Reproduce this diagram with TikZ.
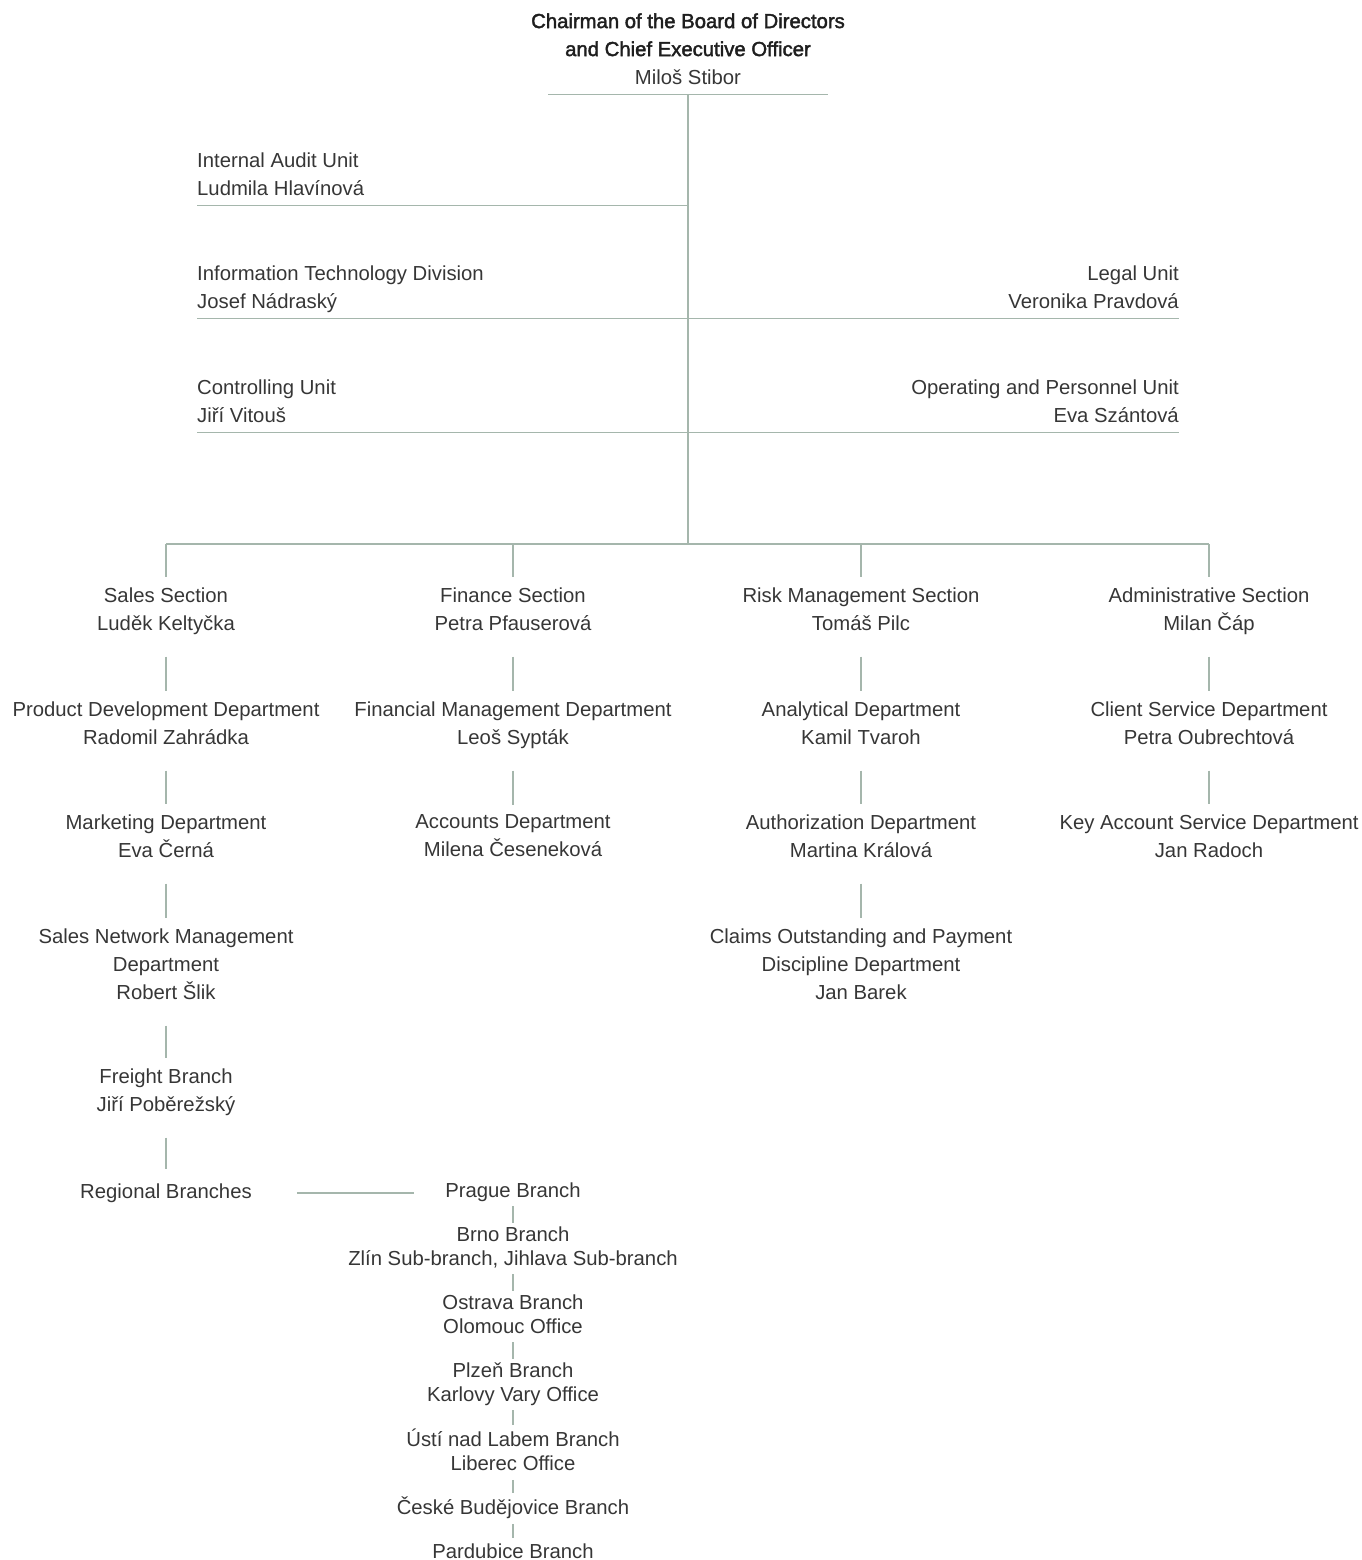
\documentclass[tikz,border=0pt]{standalone}
\usepackage{fontspec}
\setmainfont{Liberation Sans}
\newfontfamily\titlefont{Liberation Sans}[FakeBold=2]
\usetikzlibrary{calc}
\definecolor{txt}{HTML}{363636}
\definecolor{ttl}{HTML}{1E1E1E}
\definecolor{rulec}{HTML}{A5B6AC}
\tikzset{
  rule/.style={draw=rulec, line width=1.4pt},
  box/.style={inner sep=0pt, align=center, text=txt,
    font=\fontsize{20.3}{28}\selectfont,
    execute at begin node=\strut, execute at end node=\strut},
  lbox/.style={box, align=left},
  rbox/.style={box, align=right},
  brbox/.style={box, font=\fontsize{20.3}{24}\selectfont},
  colconn/.style={rule, shorten <=18pt, shorten >=10pt},
  brconn/.style={rule, shorten <=1.5pt, shorten >=4pt},
}
\begin{document}
\begin{tikzpicture}[x=1pt,y=-1pt]
\useasboundingbox (0,0) rectangle (1361,1560);

% top
\node[box] (ceo) at (688,52.9) {{\color{ttl}\titlefont Chairman of the Board of Directors}\\{\color{ttl}\titlefont and Chief Executive Officer}\\Miloš Stibor};
\coordinate (bus) at (688,544);

\node[lbox, anchor=west] (ia) at (197,177.9) {Internal Audit Unit\\Ludmila Hlavínová};
\node[lbox, anchor=west] (it) at (197,290.9) {Information Technology Division\\Josef Nádraský};
\node[rbox, anchor=east] (legal) at (1179,290.9) {Legal Unit\\Veronika Pravdová};
\node[lbox, anchor=west] (ctrl) at (197,404.9) {Controlling Unit\\Jiří Vitouš};
\node[rbox, anchor=east] (oper) at (1179,404.9) {Operating and Personnel Unit\\Eva Szántová};

% sections
\node[box] (sales) at (166,612.9) {Sales Section\\Luděk Keltyčka};
\node[box] (fin) at (513,612.9) {Finance Section\\Petra Pfauserová};
\node[box] (risk) at (861,612.9) {Risk Management Section\\Tomáš Pilc};
\node[box] (adm) at (1209,612.9) {Administrative Section\\Milan Čáp};

\node[box] (pdd) at (166,726.9) {Product Development Department\\Radomil Zahrádka};
\node[box] (fmd) at (513,726.9) {Financial Management Department\\Leoš Sypták};
\node[box] (anl) at (861,726.9) {Analytical Department\\Kamil Tvaroh};
\node[box] (csd) at (1209,726.9) {Client Service Department\\Petra Oubrechtová};

\node[box] (mkt) at (166,839.9) {Marketing Department\\Eva Černá};
\node[box] (acc) at (513,839.9) {Accounts Department\\Milena Česeneková};
\node[box] (aut) at (861,839.9) {Authorization Department\\Martina Králová};
\node[box] (kas) at (1209,839.9) {Key Account Service Department\\Jan Radoch};

\node[box] (snm) at (166,967.9) {Sales Network Management\\Department\\Robert Šlik};
\node[box] (cop) at (861,967.9) {Claims Outstanding and Payment\\Discipline Department\\Jan Barek};

\node[box] (frb) at (166,1093.9) {Freight Branch\\Jiří Poběrežský};
\node[box] (reg) at (166,1192.9) {Regional Branches};

% branches
\node[brbox] (prg) at (513,1192.7) {Prague Branch};
\node[brbox] (brn) at (513,1249.7) {Brno Branch\\Zlín Sub-branch, Jihlava Sub-branch};
\node[brbox] (ost) at (513,1317.7) {Ostrava Branch\\Olomouc Office};
\node[brbox] (plz) at (513,1385.7) {Plzeň Branch\\Karlovy Vary Office};
\node[brbox] (ust) at (513,1453.7) {Ústí nad Labem Branch\\Liberec Office};
\node[brbox] (ceb) at (513,1509.7) {České Budějovice Branch};
\node[brbox] (par) at (513,1553.7) {Pardubice Branch};

% rules
\draw[rule] ($(ceo.south)+(-140,2)$) -- ($(ceo.south)+(140,2)$);
\draw[rule] ($(ceo.south)+(0,2)$) -- (bus);
\draw[rule] ($(ia.south west)+(0,2)$) -- ($(ia.south west -| bus)+(0,2)$);
\draw[rule] ($(it.south west)+(0,2)$) -- ($(legal.south east)+(0,2)$);
\draw[rule] ($(ctrl.south west)+(0,2)$) -- ($(oper.south east)+(0,2)$);

\draw[rule] (bus -| sales) -- (bus -| adm);
\foreach \n in {sales,fin,risk,adm}
  \draw[rule, shorten >=10pt] (bus -| \n) -- (\n.north);

\draw[colconn] (sales) -- (pdd);
\draw[colconn] (pdd) -- (mkt);
\draw[colconn] (mkt) -- (snm);
\draw[colconn] (snm) -- (frb);
\draw[colconn] (frb) -- (reg);
\draw[colconn] (fin) -- (fmd);
\draw[colconn] (fmd) -- (acc);
\draw[colconn] (risk) -- (anl);
\draw[colconn] (anl) -- (aut);
\draw[colconn] (aut) -- (cop);
\draw[colconn] (adm) -- (csd);
\draw[colconn] (csd) -- (kas);

\draw[rule, shorten <=45pt, shorten >=31pt] (reg.east) -- (reg.east -| prg.west);

\draw[brconn] (prg) -- (brn);
\draw[brconn] (brn) -- (ost);
\draw[brconn] (ost) -- (plz);
\draw[brconn] (plz) -- (ust);
\draw[brconn] (ust) -- (ceb);
\draw[brconn] (ceb) -- (par);
\end{tikzpicture}
\end{document}
